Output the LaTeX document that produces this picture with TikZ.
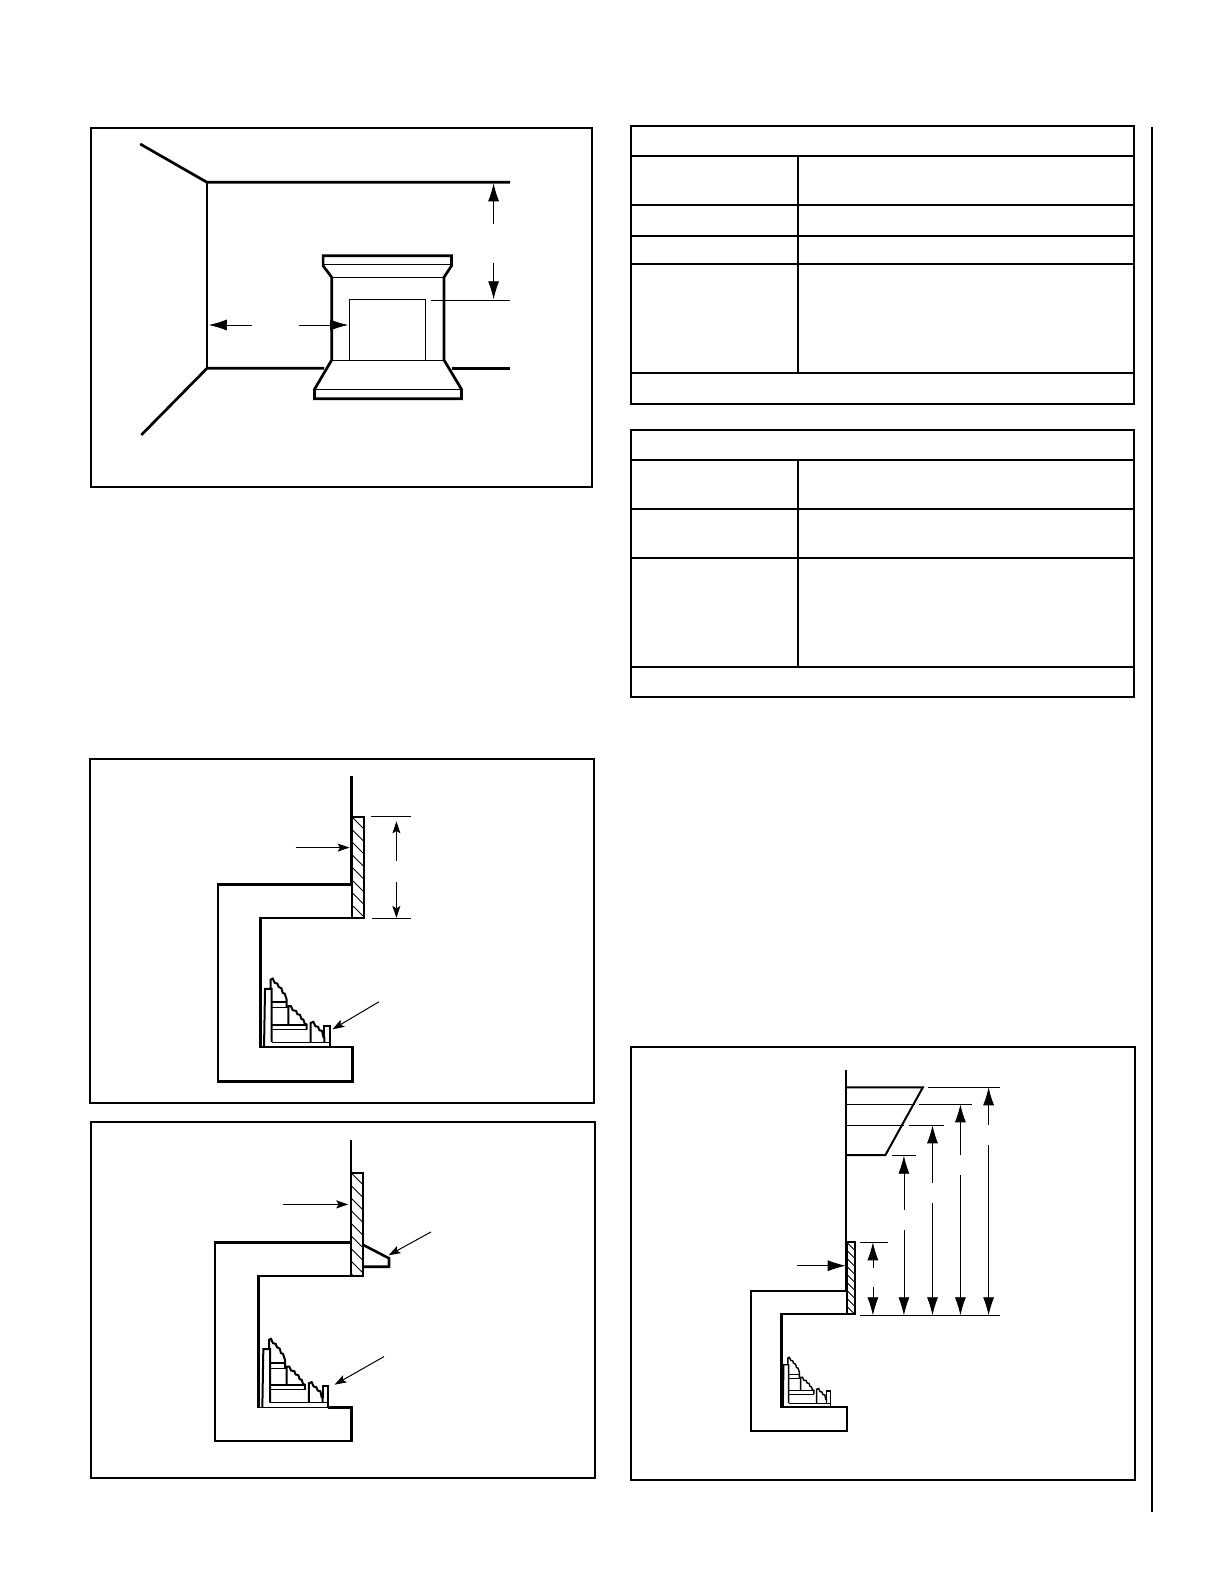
\documentclass[tikz,border=0pt]{standalone}
\usetikzlibrary{arrows.meta}
\tikzset{>={Latex[length=18pt,width=11pt]}}
\tikzset{
  framebox/.style={line width=2pt},
  wallline/.style={line width=2.6pt, line join=miter},
  roomline/.style={line width=2.7pt, line join=miter},
  thinline/.style={line width=1pt},
  dimarrow/.style={->, line width=.8pt},
  smallarrow/.style={-{Stealth[length=12pt,width=8pt,inset=2.5pt]}, line width=1pt},
}
\newcommand{\hatchpanel}[5]{
  \begin{scope}
    \clip (#1,#2) rectangle (#3,#4);
    \foreach \k in {-2,...,14} {
      \draw[line width=.9pt] (#1,#2+\k*#5) -- ++(20,20);
    }
  \end{scope}
  \draw[line width=2pt] (#1,#2) rectangle (#3,#4);
}
\newcommand{\logset}[3]{
  \begin{scope}[shift={(#1)}, x=#2*.3333pt, y=-#2*.3333pt, shift={(-65,-293)}, line join=miter]
    \draw[line width=#3] (72,293) -- (75,118) -- (95,118) -- (95,278);
    \draw[line width=.7*#3] (95,278) -- (270,278);
    \draw[line width=#3] (270,293) -- (270,228) -- (253,228) -- (253,264);
    \draw[line width=#3] (92,118) -- (92,90) -- (98,87) -- (104,100) -- (112,102) -- (116,112) -- (124,116) -- (128,130) -- (134,132) -- (140,150) -- (140,175);
    \draw[line width=#3] (95,158) -- (138,158);
    \draw[line width=.6*#3] (95,175) -- (145,175);
    \draw[line width=#3] (145,225) -- (145,170) -- (153,170) -- (158,182) -- (168,184) -- (172,194) -- (180,196) -- (184,208) -- (190,210) -- (194,222) -- (200,225) -- (200,240);
    \draw[line width=#3] (95,225) -- (200,225);
    \draw[line width=.6*#3] (95,240) -- (200,240);
    \draw[line width=#3] (212,278) -- (212,220) -- (220,217) -- (226,230) -- (234,232) -- (238,242) -- (246,244) -- (250,262) -- (253,264) -- (253,278);
  \end{scope}
}
\begin{document}
\begin{tikzpicture}[x=1pt, y=-1pt]
  \useasboundingbox[fill=white] (0,0) rectangle (1224,1584);

  \draw[framebox] (90.7,127.7) rectangle (592.4,486.7);
  \draw[roomline] (140.2,144) -- (207,182.3) -- (510,182.3);
  \draw[roomline] (207,182.3) -- (207,368.3);
  \draw[roomline] (141.3,435) -- (207,368.3) -- (324,368.3);
  \draw[roomline] (451.5,368.3) -- (510,368.3);
  \draw[roomline] (331.7,277.3) -- (323.1,265.7) -- (323.1,255.7) -- (451.5,255.7) -- (451.5,265.7) -- (444,277.3) -- (444,360) -- (461.5,389.3) -- (461.5,398.7) -- (314.5,398.7) -- (314.5,389.3) -- (331.7,360) -- cycle;
  \draw[thinline] (323.1,264.3) -- (451.5,264.3);
  \draw[thinline] (331.7,277.3) -- (444,277.3);
  \draw[thinline] (331.7,360) -- (444,360);
  \draw[thinline] (314.5,389.3) -- (461.5,389.3);
  \draw[thinline] (349.3,360) -- (349.3,299.3) -- (425.4,299.3) -- (425.4,360);
  \draw[thinline] (430.9,300.3) -- (510,300.3);
  \draw[dimarrow] (493.6,224) -- (493.6,183.3);
  \draw[dimarrow] (493.6,263.3) -- (493.6,299.3);
  \draw[dimarrow] (251.5,325) -- (208.8,325);
  \draw[dimarrow] (299,325) -- (348.2,325);

  \draw[framebox] (630.6,125.8) rectangle (1134.2,404.2);
  \foreach \y in {155.9,204.9,235.7,263.8,372.6} {
    \draw[framebox] (630.6,\y) -- (1134.2,\y);
  }
  \draw[framebox] (798.2,155.9) -- (798.2,372.6);
  \draw[framebox] (630.6,429.9) rectangle (1134.2,697.2);
  \foreach \y in {459.9,509,558,667} {
    \draw[framebox] (630.6,\y) -- (1134.2,\y);
  }
  \draw[framebox] (798.2,459.9) -- (798.2,667);
  \draw[framebox] (1152,127) -- (1152,1512);

  \draw[framebox] (89.6,758.9) rectangle (594.1,1102.6);
  \hatchpanel{351.7}{816.6}{364.4}{917.9}{12.6}
  \draw[wallline] (351.7,776.4) -- (351.7,884.4) -- (218.1,884.4) -- (218.1,1081.2) -- (352.4,1081.2) -- (352.4,1046.8) -- (260.4,1046.8) -- (260.4,917.9) -- (364.4,917.9);
  \logset{261.7,1047.2}{1}{2pt}
  \draw[thinline] (371.3,816.6) -- (410.9,816.6);
  \draw[thinline] (372,918.4) -- (410.9,918.4);
  \draw[smallarrow] (396.4,861.2) -- (396.4,821.4);
  \draw[smallarrow] (396.4,881.5) -- (396.4,917.9);
  \draw[smallarrow] (295.6,847.6) -- (349.6,847.6);
  \draw[smallarrow] (378.9,1001.8) -- (332.4,1029.4);

  \draw[framebox] (90.7,1121.5) rectangle (595.1,1478.3);
  \hatchpanel{351}{1172.8}{363.4}{1275.8}{12.6}
  \draw[wallline] (351,1140.4) -- (351,1242.2) -- (215,1242.2) -- (215,1440.9) -- (351.7,1440.9) -- (351.7,1407.5) -- (328.3,1407.5);
  \draw[thinline] (328.3,1407.5) -- (258.7,1407.5);
  \draw[wallline] (258.7,1407.5) -- (258.7,1275.8) -- (363.4,1275.8);
  \draw[wallline] (363.4,1245) -- (389,1258.3) -- (389,1266.7) -- (363.4,1266.7);
  \logset{260,1407.5}{1}{2pt}
  \draw[smallarrow] (282.8,1204.4) -- (348.2,1204.4);
  \draw[smallarrow] (430.9,1232) -- (388.5,1255.3);
  \draw[smallarrow] (384,1356.6) -- (334.5,1384.7);

  \draw[framebox] (630.7,1046.7) rectangle (1135.4,1480);
  \hatchpanel{846.8}{1242.3}{855}{1314.3}{8}
  \draw[line width=2.2pt] (846,1070) -- (846,1291) -- (751,1291) -- (751,1430.7) -- (846.8,1430.7) -- (846.8,1406.7) -- (781.4,1406.7) -- (781.4,1314.3) -- (855,1314.3);
  \logset{781.4,1406.7}{.72}{1.4pt}
  \draw[line width=2pt] (846,1087.3) -- (922.9,1087.3) -- (885.4,1155) -- (846,1155);
  \draw[thinline] (846,1104.3) -- (914.6,1104.3);
  \draw[thinline] (846,1125.3) -- (904,1125.3);
  \draw[thinline] (927.9,1087.3) -- (999.6,1087.3);
  \draw[thinline] (919.3,1104.3) -- (971.8,1104.3);
  \draw[thinline] (908.6,1125.3) -- (943.9,1125.3);
  \draw[thinline] (892,1155.7) -- (915.7,1155.7);
  \draw[thinline] (860,1242.3) -- (887.9,1242.3);
  \draw[thinline] (860,1315.3) -- (999.6,1315.3);
  \foreach \x/\tip/\up/\down in {872.9/1242.3/1268/1286.7, 903.9/1155.7/1210/1230, 932.5/1125.3/1183.3/1203.3, 960.4/1104.3/1155/1175, 988.6/1087.3/1125/1145} {
    \draw[dimarrow] (\x,\up) -- (\x,\tip);
    \draw[dimarrow] (\x,\down) -- (\x,1315.3);
  }
  \draw[dimarrow] (796.8,1265.7) -- (845.7,1265.7);
\end{tikzpicture}
\end{document}
